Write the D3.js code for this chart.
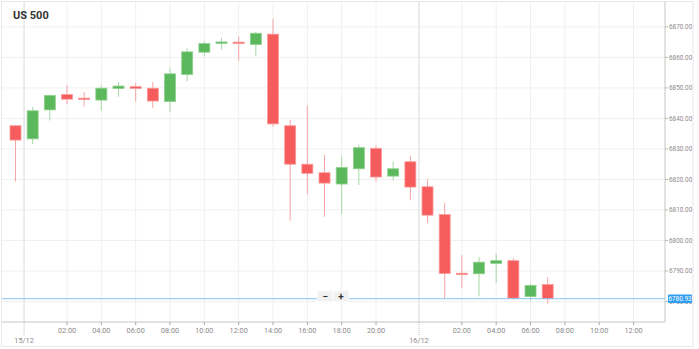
<!DOCTYPE html>
<html>
<head>
<meta charset="utf-8">
<script src="https://cdn.jsdelivr.net/npm/d3@7"></script>
<style>
html,body{margin:0;padding:0;background:#fff;}
svg{display:block;font-family:Roboto, "DejaVu Sans", sans-serif;}
</style>
</head>
<body>
<svg id="chart" width="699" height="349"></svg>
<script>
// ---- data ----
const title = "US 500";
const times = [
  "14/12 23:00",
  "15/12 00:00","15/12 01:00","15/12 02:00","15/12 03:00","15/12 04:00","15/12 05:00",
  "15/12 06:00","15/12 07:00","15/12 08:00","15/12 09:00","15/12 10:00","15/12 11:00",
  "15/12 12:00","15/12 13:00","15/12 14:00","15/12 15:00","15/12 16:00","15/12 17:00",
  "15/12 18:00","15/12 19:00","15/12 20:00","15/12 21:00","15/12 23:00",
  "16/12 00:00","16/12 01:00","16/12 02:00","16/12 03:00","16/12 04:00","16/12 05:00",
  "16/12 06:00","16/12 07:00"
];
const opens  = [6837.6,6833.3,6842.8,6847.8,6846.5,6846.0,6849.8,6850.4,6849.9,6845.5,6854.4,6861.7,6864.6,6864.8,6864.2,6867.6,6837.6,6825.0,6822.2,6818.5,6823.5,6830.2,6821.1,6825.8,6817.6,6808.5,6789.1,6789.1,6792.5,6793.4,6781.6,6785.6];
const highs  = [6837.8,6843.7,6847.9,6850.9,6848.6,6850.9,6851.9,6851.5,6851.9,6856.7,6863.0,6865.2,6866.3,6866.8,6868.3,6872.6,6839.5,6844.2,6828.0,6827.5,6831.3,6831.1,6825.8,6827.8,6820.1,6812.4,6795.2,6794.6,6795.7,6794.2,6786.0,6788.0];
const lows   = [6819.3,6831.6,6839.3,6844.7,6843.9,6842.5,6847.1,6845.5,6843.4,6842.2,6852.1,6860.3,6862.5,6858.9,6860.3,6837.3,6806.5,6815.1,6807.8,6808.7,6818.2,6819.3,6819.6,6813.2,6805.8,6780.8,6784.5,6781.7,6786.1,6780.7,6780.3,6779.3];
const closes = [6832.9,6842.5,6847.5,6846.3,6846.3,6849.9,6850.6,6849.8,6845.7,6854.6,6861.8,6864.5,6865.0,6864.7,6867.9,6838.2,6825.0,6822.0,6818.8,6823.9,6830.4,6820.8,6823.5,6817.5,6808.3,6789.2,6789.0,6792.9,6793.4,6781.1,6785.3,6780.93];
const lastPrice = 6780.93;
const yTicks = [6780,6790,6800,6810,6820,6830,6840,6850,6860,6870];
const timeTicks = ["15/12 02:00","15/12 04:00","15/12 06:00","15/12 08:00","15/12 10:00","15/12 12:00","15/12 14:00","15/12 16:00","15/12 18:00","15/12 20:00",
                   "16/12 02:00","16/12 04:00","16/12 06:00","16/12 08:00","16/12 10:00","16/12 12:00"];
const dayTicks = ["15/12","16/12"];

// session slot index: hourly since 14/12 23:00, skipping the 22:00 break hour
function slotOf(t){
  const [d, hm] = t.split(" ");
  const day = +d.split("/")[0];
  const h = +hm.split(":")[0];
  let hours = (day - 15) * 24 + h + 1;
  let breaks = 0;
  for (let dd = 14; dd < day; dd++) if (dd >= 15) breaks++;
  if (h > 22) breaks++;
  return hours - breaks;
}
function daySlot(d){ return slotOf(d + " 00:00") - 0.5; }

// ---- layout ----
const svg = d3.select("#chart");
const L = 2, R = 665, T = 1.5, B = 322;
const x = d3.scaleLinear().domain([0, 31]).range([15.5, 547.7]);
const y = d3.scaleLinear().domain([6773.3, 6878.3]).range([B, T]);

// outer frame
svg.append("rect").attr("x",1.5).attr("y",1.5).attr("width",691.5).attr("height",345)
  .attr("fill","#fff").attr("stroke","#e8e8e8").attr("stroke-width",1);

// horizontal gridlines
svg.append("g").selectAll("line").data(yTicks).join("line")
  .attr("x1",L).attr("x2",R).attr("y1",d=>y(d)).attr("y2",d=>y(d))
  .attr("stroke","#f0f0f0").attr("stroke-width",1);

// vertical gridlines
svg.append("g").selectAll("line").data(timeTicks).join("line")
  .attr("x1",d=>x(slotOf(d))).attr("x2",d=>x(slotOf(d))).attr("y1",T).attr("y2",B)
  .attr("stroke","#f0f0f0").attr("stroke-width",1);
svg.append("g").selectAll("line").data(dayTicks).join("line")
  .attr("x1",d=>x(daySlot(d))).attr("x2",d=>x(daySlot(d))).attr("y1",T).attr("y2",B)
  .attr("stroke","#e2e2e2").attr("stroke-width",1.3);

// axes lines
svg.append("line").attr("x1",L).attr("x2",R).attr("y1",B).attr("y2",B).attr("stroke","#c4c4c4");
svg.append("line").attr("x1",R).attr("x2",R).attr("y1",T).attr("y2",B).attr("stroke","#c4c4c4");

// right axis
const gy = svg.append("g");
gy.selectAll("line").data(yTicks).join("line")
  .attr("x1",R).attr("x2",R+3).attr("y1",d=>y(d)).attr("y2",d=>y(d)).attr("stroke","#bbb");
gy.selectAll("text").data(yTicks).join("text")
  .attr("x",R+4).attr("y",d=>y(d)).attr("dy","0.35em")
  .attr("font-size",6.4).attr("fill","#8a8a8a").text(d=>d3.format(".2f")(d));

// bottom axis
const gx = svg.append("g");
gx.selectAll("line").data(timeTicks).join("line")
  .attr("x1",d=>x(slotOf(d))).attr("x2",d=>x(slotOf(d))).attr("y1",B).attr("y2",B+3).attr("stroke","#aaa");
gx.selectAll("text").data(timeTicks).join("text")
  .attr("x",d=>x(slotOf(d))).attr("y",B+11.3).attr("text-anchor","middle")
  .attr("font-size",7.3).attr("fill","#8a8a8a").text(d=>d.split(" ")[1]);
const gd = svg.append("g");
gd.selectAll("line").data(dayTicks).join("line")
  .attr("x1",d=>x(daySlot(d))).attr("x2",d=>x(daySlot(d))).attr("y1",B).attr("y2",B+13.5)
  .attr("stroke","#bbb").attr("stroke-dasharray","1,1");
gd.selectAll("text").data(dayTicks).join("text")
  .attr("x",d=>x(daySlot(d))).attr("y",B+20.7).attr("text-anchor","middle")
  .attr("font-size",7.3).attr("fill","#8a8a8a").text(d=>d);

// candles
const candles = times.map((t,i)=>({t, i, o:opens[i], h:highs[i], l:lows[i], c:closes[i]}));
const bw = 11;
const up = "#5cb85c", upEdge = "#8fd08f", upWick = "#a6d8a6";
const dn = "#f75c5c", dnEdge = "#f99c9c", dnWick = "#f7a4a4";
const gc = svg.append("g");
gc.selectAll("line").data(candles).join("line")
  .attr("x1",d=>x(d.i)).attr("x2",d=>x(d.i)).attr("y1",d=>y(d.h)).attr("y2",d=>y(d.l))
  .attr("stroke",d=>d.c>=d.o?upWick:dnWick).attr("stroke-width",1);
gc.selectAll("rect").data(candles).join("rect")
  .attr("x",d=>x(d.i)-bw/2)
  .attr("y",d=>{const t=y(Math.max(d.o,d.c)), b=y(Math.min(d.o,d.c)); return (b-t)<1.5 ? (t+b)/2-0.75 : t;})
  .attr("width",bw)
  .attr("height",d=>Math.max(1.5, y(Math.min(d.o,d.c))-y(Math.max(d.o,d.c))))
  .attr("fill",d=>d.c>=d.o?up:dn)
  .attr("stroke",d=>d.c>=d.o?upEdge:dnEdge).attr("stroke-width",0.8);

// last price line
svg.append("line").attr("x1",L).attr("x2",R).attr("y1",y(lastPrice)).attr("y2",y(lastPrice))
  .attr("stroke","#86c5f0").attr("stroke-width",1);
const lp = svg.append("g").attr("transform",`translate(${R+3},${y(lastPrice)})`);
lp.append("rect").attr("x",0).attr("y",-4.2).attr("width",24).attr("height",8.4).attr("rx",1)
  .attr("fill","#2f9ef0");
lp.append("text").attr("x",12).attr("y",0).attr("dy","0.35em").attr("text-anchor","middle")
  .attr("font-size",6.4).attr("fill","#fff").text(d3.format(".2f")(lastPrice));

// zoom buttons
const zb = svg.append("g").attr("transform","translate(317.5,291)");
zb.append("rect").attr("width",31).attr("height",10.5).attr("fill","#f1f1f1").attr("stroke","#fafafa");
zb.append("line").attr("x1",15.5).attr("x2",15.5).attr("y1",0).attr("y2",10.5).attr("stroke","#fff");
zb.append("text").attr("x",7.7).attr("y",5.3).attr("dy","0.35em").attr("text-anchor","middle")
  .attr("font-size",10).attr("font-weight","bold").attr("fill","#333").text("−");
zb.append("text").attr("x",23.5).attr("y",5.3).attr("dy","0.35em").attr("text-anchor","middle")
  .attr("font-size",10).attr("font-weight","bold").attr("fill","#333").text("+");

// title
svg.append("text").attr("x",13).attr("y",19).attr("font-size",11).attr("font-weight","bold")
  .attr("fill","#333").text(title);
</script>
</body>
</html>
